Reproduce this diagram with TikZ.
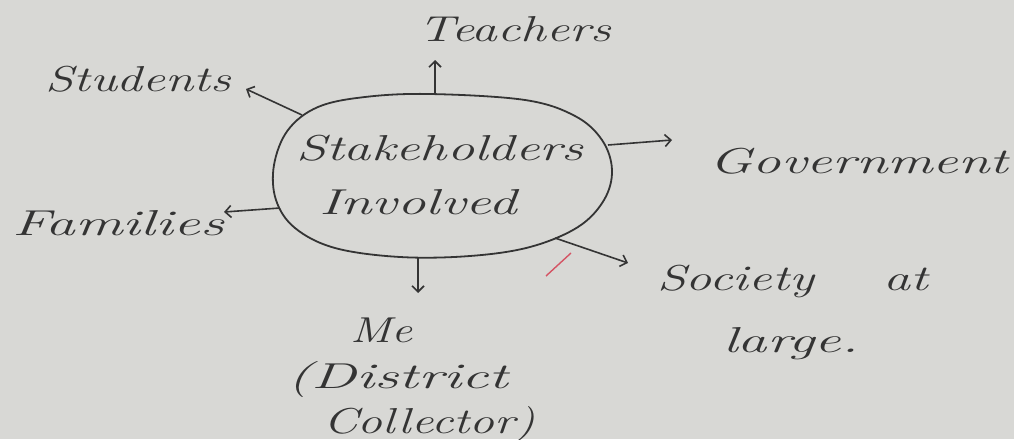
\documentclass[tikz,border=0pt]{standalone}
\usepackage{fontspec}
\usetikzlibrary{arrows.meta}
\definecolor{paper}{RGB}{216,216,213}
\definecolor{ink}{RGB}{52,52,52}
\definecolor{redpen}{RGB}{212,84,100}
\newcommand\hw[2][1.4]{\scalebox{#1}[1]{#2}}
\begin{document}
\begin{tikzpicture}[x=1pt,y=-1pt,
  lbl/.style={inner sep=0pt, text=ink, font=\fontsize{36}{40}\selectfont\itshape},
  conn/.style={draw=ink, line width=1.6pt, -{Straight Barb[length=6pt,width=12pt,line width=1.6pt]}},
  oval/.style={draw=ink, line width=1.8pt, tension=0.6}]
\fill[paper] (0,0) rectangle (1014,439);
\useasboundingbox (0,0) rectangle (1014,439);
% central oval
\draw[oval] plot[smooth cycle] coordinates {
  (430,94) (365,97) (318,107) (288,130) (274,165) (276,200) (295,228)
  (335,248) (400,257) (470,256) (530,247) (578,227) (604,200) (612,170)
  (602,140) (575,116) (525,100)};
\node[lbl] (c1) at (440,148) {\hw[1.51]{Stakeholders}};
\node[lbl] (c2) at (418,202) {\hw[1.58]{Involved}};
% labels
\node[lbl] (teach) at (515,29) {\hw[1.43]{Teachers}};
\node[lbl] (stud) at (138,79) {\hw[1.42]{Students}};
\node[lbl] (fam) at (118,223) {\hw[1.65]{Families}};
\node[lbl] (gov) at (859,161) {\hw[1.58]{Government}};
\node[lbl, anchor=base west] (soc) at (657,290) {\hw[1.45]{Society}};
\node[lbl, anchor=base west] (at) at (883,290) {\hw[1.5]{at}};
\node[lbl, anchor=base west] (lar) at (723,352) {\hw[1.63]{large.}};
\node[lbl, anchor=base west] (me) at (350,342) {\hw[1.3]{Me}};
\node[lbl, anchor=base west] (dis) at (287,388) {\hw[1.68]{(District}};
\node[lbl, anchor=base west] (col) at (323,433) {\hw[1.38]{Collector)}};
% connector end points
\coordinate (tS) at (435,94);  \coordinate (tE) at (435,60);
\coordinate (sS) at (302,115); \coordinate (sE) at (246,89);
\coordinate (gS) at (608,145); \coordinate (gE) at (672,140);
\coordinate (fS) at (280,208); \coordinate (fE) at (224,212);
\coordinate (yS) at (555,238); \coordinate (yE) at (628,263);
\coordinate (mS) at (418,257); \coordinate (mE) at (418,293);
\draw[conn] (tS) -- (tE);
\draw[conn] (sS) -- (sE);
\draw[conn] (gS) -- (gE);
\draw[conn] (fS) -- (fE);
\draw[conn] (yS) -- (yE);
\draw[conn] (mS) -- (mE);
% red tick
\coordinate (r1) at (546,276); \coordinate (r2) at (571,253);
\draw[redpen, line width=1.4pt] (r1) -- (r2);
\end{tikzpicture}
\end{document}
